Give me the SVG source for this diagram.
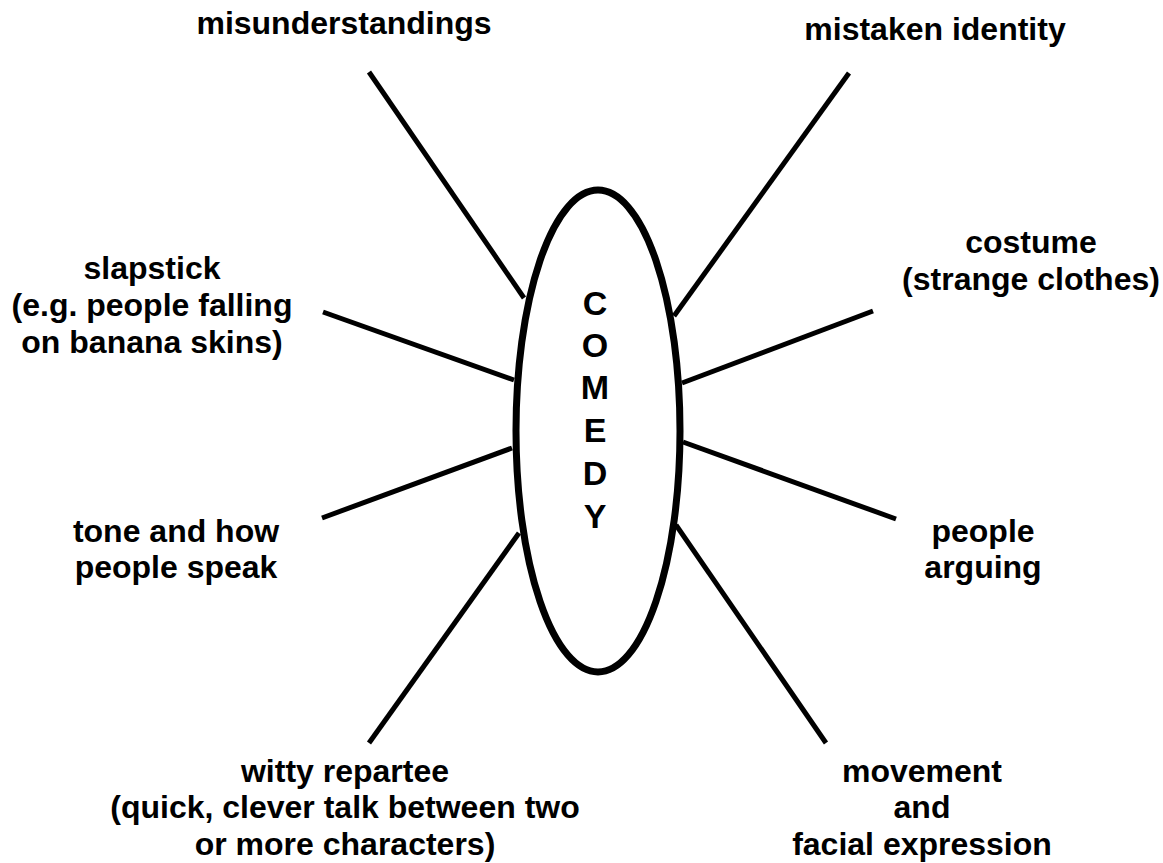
<svg xmlns="http://www.w3.org/2000/svg" width="1163" height="863" viewBox="0 0 1163 863">
<style>
.lbl{font-family:"Liberation Sans",Arial,sans-serif;font-weight:bold;font-size:32px;fill:#000;text-anchor:middle}
.big{font-size:34px}
.conn line{stroke:#000;stroke-width:5;stroke-linecap:butt}
</style>
<rect width="1163" height="863" fill="#fff"/>
<g id="connectors" class="conn">
<line x1="369" y1="72" x2="524" y2="298"/>
<line x1="849" y1="73" x2="674" y2="316"/>
<line x1="323" y1="312" x2="514" y2="380"/>
<line x1="322" y1="518" x2="512" y2="448"/>
<line x1="369" y1="743" x2="519" y2="533"/>
<line x1="873" y1="311" x2="682" y2="383"/>
<line x1="896" y1="519" x2="683" y2="442"/>
<line x1="826" y1="743" x2="676" y2="525"/>
</g>
<g id="comedy">
<ellipse cx="598" cy="431" rx="82" ry="241" fill="#fff" stroke="#000" stroke-width="7"/>
<text class="lbl big" x="595" y="315">C</text>
<text class="lbl big" x="595" y="357">O</text>
<text class="lbl big" x="595" y="399">M</text>
<text class="lbl big" x="595" y="442">E</text>
<text class="lbl big" x="595" y="485">D</text>
<text class="lbl big" x="595" y="528">Y</text>
</g>
<g id="misunderstandings"><text class="lbl" x="344" y="34">misunderstandings</text></g>
<g id="mistaken-identity"><text class="lbl" x="935" y="40">mistaken identity</text></g>
<g id="slapstick"><text class="lbl" x="152" y="279">slapstick</text><text class="lbl" x="152" y="316">(e.g. people falling</text><text class="lbl" x="152" y="353">on banana skins)</text></g>
<g id="costume"><text class="lbl" x="1031" y="253">costume</text><text class="lbl" x="1031" y="290">(strange clothes)</text></g>
<g id="tone"><text class="lbl" x="176" y="542">tone and how</text><text class="lbl" x="176" y="578">people speak</text></g>
<g id="arguing"><text class="lbl" x="983" y="542">people</text><text class="lbl" x="983" y="578">arguing</text></g>
<g id="witty"><text class="lbl" x="345" y="782">witty repartee</text><text class="lbl" x="345" y="818">(quick, clever talk between two</text><text class="lbl" x="345" y="855">or more characters)</text></g>
<g id="movement"><text class="lbl" x="922" y="782">movement</text><text class="lbl" x="922" y="818">and</text><text class="lbl" x="922" y="855">facial expression</text></g>
</svg>
